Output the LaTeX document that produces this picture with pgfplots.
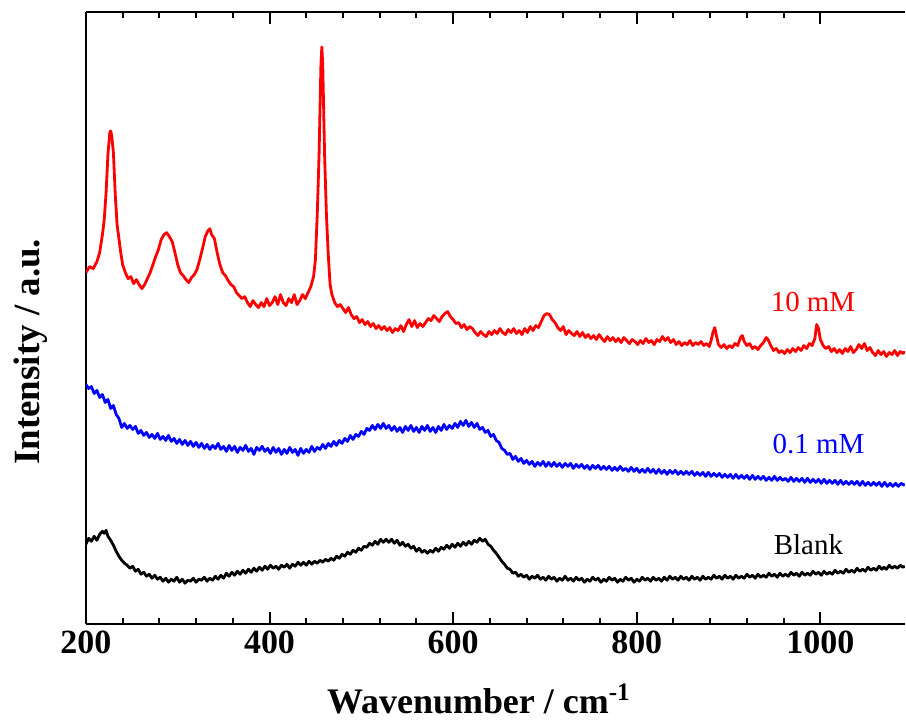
\documentclass[border=0pt]{standalone}
\usepackage{fontspec}
\setmainfont{Liberation Serif}
\usepackage{pgfplots}
\pgfplotsset{compat=1.18}
\begin{document}
\begin{tikzpicture}
\begin{axis}[
  scale only axis, width=410pt, height=306.5pt,
  xmin=200, xmax=1092, ymin=0, ymax=613,
  axis x line=box, axis y line=left,
  axis line style={-, line width=1.2pt},
  xtick={200,400,...,1000}, minor x tick num=4,
  ytick=\empty, minor ytick={43.2,86.4,...,604.8},
  tick align=inside,
  major tick length=6pt, minor tick length=3pt,
  every tick/.style={black, line width=1pt},
  /pgf/number format/assume math mode=true,
  /pgf/number format/1000 sep={},
  xticklabel style={font=\bfseries\fontsize{17}{17}\selectfont},
  xlabel={\textbf{Wavenumber / cm\textsuperscript{-1}}},
  ylabel={\textbf{Intensity / a.u.}},
  every axis x label/.style={at={(axis description cs:0.48,-0.122)}, anchor=center, font=\fontsize{18}{18}\selectfont},
  every axis y label/.style={at={(axis description cs:-0.068,0.445)}, anchor=center, rotate=90, font=\fontsize{18.5}{18.5}\selectfont},
  every axis plot/.append style={line width=1.4pt, line join=round},
]
% 10 mM
\addplot[red] table {
200 352
204 358
208 356
212 363
215 372
218 390
220 405
222 432
224 470
226 492
227 494
228 490
230 472
232 430
234 400
236 386
238 372
240 360
243 352
246 346
249 348
252 341
255 345
258 340
261 336
264 340
267 346
270 352
273 360
276 368
279 375
282 385
285 390
288 392
291 388
294 383
297 372
300 360
303 352
306 349
309 345
312 342
315 347
318 350
321 355
324 365
327 376
330 388
333 394
335 396
337 390
340 386
343 372
346 360
349 352
352 349
355 344
358 340
361 338
364 332
367 329
370 326
373 328
376 322
379 318
382 324
385 320
388 317
391 322
394 318
397 326
400 319
403 322
406 328
409 320
412 330
415 322
418 319
421 326
424 322
427 330
430 320
433 324
436 330
439 326
442 332
445 338
448 348
450 365
452 410
454 470
456 560
457 578
458 560
460 470
462 410
464 370
466 340
468 330
471 322
474 318
477 320
480 316
483 312
486 317
489 310
492 306
495 308
498 302
501 305
504 300
507 303
510 298
513 301
516 296
519 299
522 295
525 298
528 294
531 297
534 292
537 296
540 294
543 299
546 293
549 300
552 305
555 298
558 304
561 297
564 301
567 298
570 302
573 306
576 304
579 309
582 306
585 303
588 308
591 311
594 313
597 308
600 305
603 301
606 302
609 297
612 300
615 295
618 298
621 296
624 292
627 289
630 293
633 290
636 288
639 293
642 290
645 294
648 291
651 296
654 292
657 290
660 295
663 292
666 296
669 291
672 294
675 290
678 296
681 292
684 298
687 294
690 299
693 297
696 303
699 309
702 311
705 310
708 305
711 302
714 297
717 294
720 298
723 290
726 294
729 291
732 289
735 293
738 288
741 292
744 287
747 290
750 286
753 289
756 285
759 290
762 286
765 283
768 288
771 284
774 287
777 283
780 286
783 282
786 287
789 284
792 281
795 285
798 283
801 280
804 284
807 281
810 286
813 282
816 284
819 280
822 285
825 283
828 288
831 284
834 287
837 282
840 285
843 280
846 283
849 279
852 282
855 280
858 284
861 279
864 282
867 280
870 283
873 279
876 281
879 278
881 284
883 292
885 297
887 288
889 280
892 277
895 280
898 276
901 279
904 277
907 281
910 279
913 287
915 289
917 283
920 279
923 281
926 276
929 278
932 275
935 279
938 282
941 287
943 285
946 279
949 274
952 276
955 272
958 274
961 271
964 275
967 272
970 276
973 273
976 277
979 274
982 279
985 276
988 281
991 279
994 286
996 300
998 296
1000 285
1003 279
1006 276
1009 278
1012 273
1015 276
1018 272
1021 275
1024 271
1027 276
1030 273
1033 278
1036 272
1039 275
1042 280
1045 276
1048 281
1051 274
1054 277
1057 272
1060 269
1063 274
1066 270
1069 273
1072 268
1075 272
1078 270
1081 274
1084 269
1087 273
1090 271
1092 273
};
% 0.1 mM
\addplot[blue] table {
200 240
203 236
206 238
209 231
212 234
215 227
218 230
221 222
224 225
227 216
230 219
233 210
236 206
239 197
242 201
245 196
248 199
251 195
254 198
257 191
260 194
263 189
266 192
269 187
272 190
275 186
278 191
281 185
284 188
287 184
290 189
293 183
296 186
299 181
302 185
305 180
308 184
311 179
314 183
317 178
320 182
323 177
326 181
329 176
332 180
335 175
338 179
341 176
344 181
347 175
350 178
353 173
356 179
359 174
362 178
365 172
368 177
371 174
374 179
377 173
380 176
383 170
386 177
389 174
392 178
395 173
398 176
401 171
404 177
407 172
410 176
413 170
416 175
419 171
422 177
425 172
428 175
431 169
434 176
437 171
440 175
443 172
446 178
449 173
452 177
455 175
458 180
461 176
464 181
467 178
470 183
473 179
476 184
479 181
482 186
485 183
488 189
491 185
494 190
497 188
500 193
503 190
506 196
509 194
512 199
515 195
518 200
521 196
524 201
527 196
530 199
533 194
536 198
539 193
542 197
545 192
548 198
551 194
554 199
557 193
560 197
563 192
566 198
569 194
572 199
575 193
578 197
581 192
584 198
587 194
590 200
593 195
596 199
599 196
602 201
605 197
608 203
611 199
614 204
617 198
620 202
623 197
626 201
629 195
632 197
635 192
638 194
641 188
644 190
647 184
650 182
653 176
656 174
659 170
662 171
665 165
668 168
671 163
674 166
677 161
680 164
683 160
686 163
689 158
692 162
695 159
698 163
701 158
704 162
707 158
710 162
713 158
716 161
719 157
722 161
725 158
728 161
731 156
734 160
737 157
740 160
743 156
746 159
749 155
752 159
755 156
758 159
761 155
764 158
767 155
770 158
773 154
776 157
779 154
782 158
785 154
788 156
791 153
794 157
797 153
800 156
803 152
806 155
809 152
812 156
815 152
818 155
821 151
824 155
827 151
830 154
833 150
836 154
839 151
842 154
845 150
848 153
851 150
854 153
857 150
860 153
863 149
866 152
869 149
872 152
875 148
878 152
881 148
884 151
887 148
890 151
893 147
896 150
899 147
902 150
905 146
908 150
911 146
914 149
917 146
920 149
923 145
926 149
929 145
932 148
935 145
938 148
941 144
944 147
947 144
950 148
953 144
956 147
959 144
962 146
965 143
968 147
971 143
974 146
977 143
980 146
983 142
986 146
989 142
992 145
995 142
998 145
1001 141
1004 145
1007 141
1010 144
1013 141
1016 144
1019 140
1022 144
1025 140
1028 143
1031 140
1034 143
1037 140
1040 143
1043 139
1046 143
1049 139
1052 142
1055 139
1058 142
1061 139
1064 142
1067 138
1070 142
1073 138
1076 141
1079 138
1082 141
1085 138
1088 141
1092 139
};
% Blank
\addplot[black] table {
200 80
203 86
206 83
209 88
212 84
215 90
218 93
220 91
222 94
224 88
227 84
230 79
233 73
236 68
239 64
242 61
245 59
248 56
251 58
254 53
257 55
260 50
263 52
266 48
269 50
272 46
275 49
278 45
281 47
284 43
287 46
290 42
293 45
296 43
299 47
302 42
305 45
308 41
311 44
314 43
317 46
320 42
323 45
326 44
329 47
332 43
335 46
338 44
341 48
344 45
347 49
350 46
353 51
356 48
359 52
362 49
365 53
368 50
371 54
374 51
377 55
380 52
383 56
386 53
389 57
392 54
395 58
398 55
401 59
404 56
407 58
410 55
413 59
416 57
419 60
422 56
425 60
428 58
431 62
434 59
437 62
440 59
443 63
446 60
449 63
452 61
455 64
458 62
461 65
464 63
467 66
470 64
473 68
476 66
479 70
482 68
485 72
488 70
491 74
494 72
497 76
500 74
503 78
506 77
509 81
512 79
515 83
518 80
521 85
524 82
527 85
530 82
533 85
536 81
539 84
542 79
545 82
548 78
551 80
554 76
557 78
560 73
563 76
566 72
569 74
572 71
575 74
578 72
581 76
584 73
587 77
590 75
593 79
596 76
599 80
602 77
605 81
608 78
611 82
614 79
617 83
620 80
623 84
626 82
629 86
632 83
635 85
638 80
641 78
644 74
647 71
650 67
653 63
656 60
659 56
662 55
665 51
668 52
671 48
674 50
677 47
680 49
683 45
686 48
689 46
692 49
695 45
698 47
701 44
704 48
707 45
710 47
713 43
716 46
719 44
722 48
725 44
728 46
731 43
734 47
737 44
740 46
743 42
746 45
749 43
752 47
755 44
758 46
761 42
764 45
767 43
770 47
773 44
776 46
779 42
782 45
785 43
788 47
791 44
794 46
797 42
800 45
803 43
806 47
809 44
812 46
815 43
818 47
821 44
824 46
827 43
830 47
833 44
836 48
839 45
842 47
845 44
848 48
851 45
854 47
857 44
860 48
863 45
866 47
869 44
872 48
875 45
878 47
881 45
884 49
887 46
890 48
893 45
896 49
899 46
902 48
905 45
908 49
911 46
914 48
917 46
920 50
923 47
926 49
929 46
932 50
935 47
938 49
941 47
944 51
947 48
950 50
953 47
956 51
959 48
962 50
965 48
968 52
971 49
974 51
977 48
980 52
983 49
986 51
989 49
992 53
995 50
998 52
1001 49
1004 53
1007 50
1010 52
1013 50
1016 54
1019 51
1022 53
1025 51
1028 55
1031 52
1034 54
1037 52
1040 56
1043 53
1046 55
1049 53
1052 57
1055 54
1058 56
1061 54
1064 58
1067 55
1069 57
1072 55
1075 59
1078 56
1081 58
1084 56
1087 59
1090 57
1092 58
};
\node[text=red, font=\fontsize{14.5}{14.5}\selectfont] at (axis cs:992,323) {10 mM};
\node[text=blue, font=\fontsize{14.5}{14.5}\selectfont] at (axis cs:998,180) {0.1 mM};
\node[text=black, font=\fontsize{14.5}{14.5}\selectfont] at (axis cs:987,80) {Blank};
\end{axis}
\path ([xshift=-43pt,yshift=6pt]current axis.north west) ([yshift=-51pt]current axis.south east);
\end{tikzpicture}
\end{document}
